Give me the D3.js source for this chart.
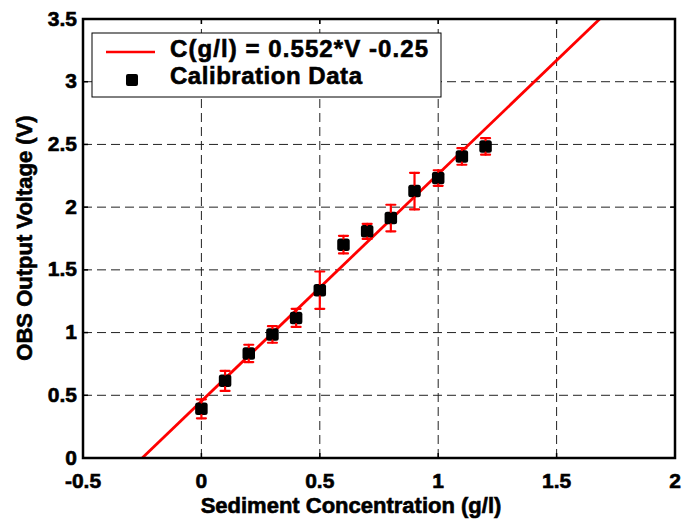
<!DOCTYPE html>
<html>
<head>
<meta charset="utf-8">
<script src="https://cdn.jsdelivr.net/npm/d3@7"></script>
<style>
  html, body { margin: 0; padding: 0; background: #fff; }
  svg { display: block; font-family: "Liberation Sans", Arial, sans-serif; font-weight: bold; }
  svg text { fill: #000; stroke: #000; stroke-width: 0.6px; }
</style>
</head>
<body>
<svg id="chart" width="683" height="519"></svg>
<script>
// ---- data ----
const concentration = [0, 0.1, 0.2, 0.3, 0.4, 0.5, 0.6, 0.7, 0.8, 0.9, 1.0, 1.1, 1.2];
const voltage = [0.392, 0.615, 0.834, 0.985, 1.117, 1.338, 1.701, 1.807, 1.913, 2.128, 2.232, 2.404, 2.484];
const voltageErr = [0.076, 0.080, 0.069, 0.066, 0.072, 0.149, 0.070, 0.060, 0.106, 0.146, 0.062, 0.066, 0.066];
const fitSlope = 0.552;
const fitIntercept = -0.25;
const xTicks = [-0.5, 0, 0.5, 1, 1.5, 2];
const yTicks = [0, 0.5, 1, 1.5, 2, 2.5, 3, 3.5];
const legendLabels = ["C(g/l) = 0.552*V -0.25", "Calibration Data"];
const xTitle = "Sediment Concentration (g/l)";
const yTitle = "OBS Output Voltage (V)";

// ---- layout ----
const svg = d3.select("#chart");
const L = 83, R = 675, T = 19, B = 458;
const x = d3.scaleLinear().domain([-0.5, 2]).range([L, R]);
const y = d3.scaleLinear().domain([0, 3.5]).range([B, T]);

// grid
const grid = svg.append("g").attr("stroke", "#222").attr("stroke-width", 1).attr("stroke-dasharray", "9,5");
grid.selectAll("line.gx").data(xTicks.filter(d => d > -0.5 && d < 2)).join("line")
  .attr("x1", d => x(d)).attr("x2", d => x(d)).attr("y1", B).attr("y2", T);
grid.selectAll("line.gy").data(yTicks.filter(d => d > 0 && d < 3.5)).join("line")
  .attr("y1", d => y(d)).attr("y2", d => y(d)).attr("x1", L).attr("x2", R);

// fit line: C = slope*V + intercept
const vMax = 3.5;
const fitPts = [[fitIntercept, 0], [fitSlope * vMax + fitIntercept, vMax]];
svg.append("path")
  .attr("d", d3.line().x(d => x(d[0])).y(d => y(d[1]))(fitPts))
  .attr("stroke", "#ff0000").attr("stroke-width", 2.8).attr("fill", "none");

// markers
const pts = concentration.map((c, i) => ({c, v: voltage[i], e: voltageErr[i]}));
const ms = 12.5;
svg.append("g").selectAll("rect").data(pts).join("rect")
  .attr("x", d => x(d.c) - ms / 2).attr("y", d => y(d.v) - ms / 2)
  .attr("width", ms).attr("height", ms).attr("rx", 2.5).attr("fill", "#000");

// error bars
const eb = svg.append("g").attr("stroke", "#ff0000").attr("stroke-width", 2.2).attr("stroke-linecap", "round");
const cw = 4.5;
eb.selectAll("line.top").data(pts).join("line")
  .attr("x1", d => x(d.c)).attr("x2", d => x(d.c))
  .attr("y1", d => y(d.v + d.e)).attr("y2", d => Math.min(y(d.v) - ms / 2, y(d.v + d.e) + 20));
eb.selectAll("line.bot").data(pts).join("line")
  .attr("x1", d => x(d.c)).attr("x2", d => x(d.c))
  .attr("y1", d => y(d.v - d.e)).attr("y2", d => Math.max(y(d.v) + ms / 2, y(d.v - d.e) - 20));
eb.selectAll("line.capt").data(pts).join("line")
  .attr("x1", d => x(d.c) - cw).attr("x2", d => x(d.c) + cw)
  .attr("y1", d => y(d.v + d.e)).attr("y2", d => y(d.v + d.e));
eb.selectAll("line.capb").data(pts).join("line")
  .attr("x1", d => x(d.c) - cw).attr("x2", d => x(d.c) + cw)
  .attr("y1", d => y(d.v - d.e)).attr("y2", d => y(d.v - d.e));

// axes frame + ticks
const tk = 5;
const ax = svg.append("g").attr("stroke", "#000").attr("stroke-width", 1.5);
xTicks.forEach(t => {
  ax.append("line").attr("x1", x(t)).attr("x2", x(t)).attr("y1", B).attr("y2", B - tk);
  ax.append("line").attr("x1", x(t)).attr("x2", x(t)).attr("y1", T).attr("y2", T + tk);
});
yTicks.forEach(t => {
  ax.append("line").attr("y1", y(t)).attr("y2", y(t)).attr("x1", L).attr("x2", L + tk);
  ax.append("line").attr("y1", y(t)).attr("y2", y(t)).attr("x1", R).attr("x2", R - tk);
});
svg.append("rect").attr("x", L).attr("y", T).attr("width", R - L).attr("height", B - T)
  .attr("fill", "none").attr("stroke", "#000").attr("stroke-width", 2.5);

// tick labels
const fmt = d => String(d);
svg.append("g").selectAll("text").data(xTicks).join("text")
  .attr("x", d => x(d)).attr("y", 488).attr("text-anchor", "middle")
  .attr("font-size", 21).text(fmt);
svg.append("g").selectAll("text").data(yTicks).join("text")
  .attr("x", 77).attr("y", d => y(d) + 6.5).attr("text-anchor", "end")
  .attr("font-size", 21).text(fmt);

// axis titles
svg.append("text").attr("x", (L + R) / 2 - 28).attr("y", 512.5).attr("text-anchor", "middle")
  .attr("font-size", 22).text(xTitle);
svg.append("text").attr("transform", "translate(32,238) rotate(-90)").attr("text-anchor", "middle")
  .attr("font-size", 22).text(yTitle);

// legend
const lg = svg.append("g");
lg.append("rect").attr("x", 92).attr("y", 33).attr("width", 349).attr("height", 64)
  .attr("fill", "#fff").attr("stroke", "#000").attr("stroke-width", 1);
lg.append("line").attr("x1", 106).attr("x2", 155).attr("y1", 52).attr("y2", 52)
  .attr("stroke", "#ff0000").attr("stroke-width", 2.5);
lg.append("rect").attr("x", 132 - 6).attr("y", 80 - 6).attr("width", 12).attr("height", 12).attr("rx", 2).attr("fill", "#000");
lg.append("text").attr("x", 170).attr("y", 57).attr("font-size", 24)
  .attr("textLength", 258).attr("lengthAdjust", "spacing").text(legendLabels[0]);
lg.append("text").attr("x", 170).attr("y", 84).attr("font-size", 24)
  .attr("textLength", 192).attr("lengthAdjust", "spacing").text(legendLabels[1]);
</script>
</body>
</html>
